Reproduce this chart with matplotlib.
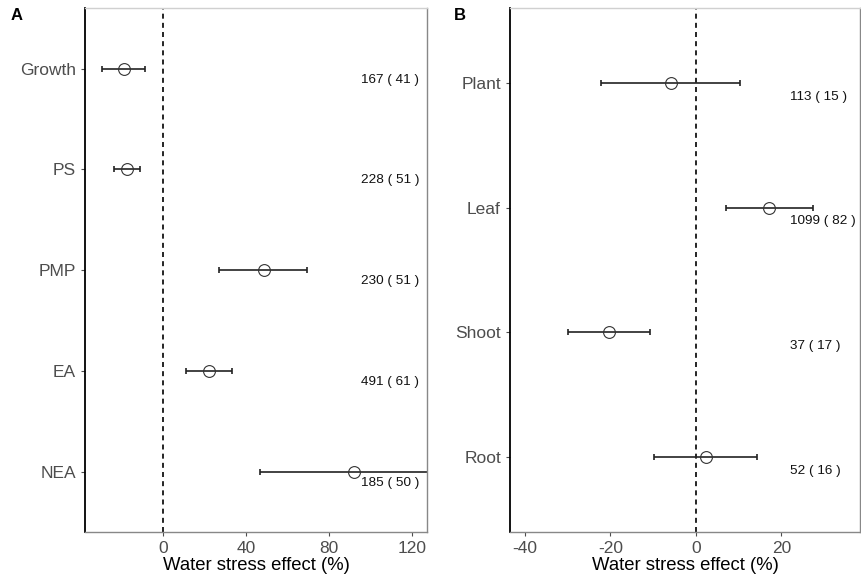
import matplotlib
matplotlib.use("Agg")
import matplotlib.pyplot as plt

plt.rcParams['font.family'] = ['Liberation Sans', 'DejaVu Sans']
plt.rcParams['axes.unicode_minus'] = False

# panel A
cats_a = ["Growth", "PS", "PMP", "EA", "NEA"]
mean_a = [-18.6, -17.3, 48.4, 22.3, 92.1]
lo_a = [-29.0, -23.3, 27.1, 11.2, 46.8]
hi_a = [-8.4, -10.9, 69.2, 33.2, 140.0]
obs_a = [167, 228, 230, 491, 185]
stud_a = [41, 51, 51, 61, 50]

# panel B
cats_b = ["Plant", "Leaf", "Shoot", "Root"]
mean_b = [-5.9, 17.1, -20.3, 2.3]
lo_b = [-22.1, 7.0, -29.9, -9.75]
hi_b = [10.4, 27.3, -10.8, 14.3]
obs_b = [113, 1099, 37, 52]
stud_b = [15, 82, 17, 16]

fig = plt.figure(figsize=(8.61, 5.79), dpi=100)
ax_a = fig.add_axes([0.0987, 0.0812, 0.3973, 0.9048])
ax_b = fig.add_axes([0.5923, 0.0812, 0.4065, 0.9048])


def draw(ax, cats, mean, lo, hi, obs, stud, xlim, xticks, label_x):
    y = list(range(len(cats)))
    xerr = [[m - l for m, l in zip(mean, lo)], [h - m for m, h in zip(mean, hi)]]
    ax.axvline(0, color="black", ls=(0, (3, 2.5)), lw=1.2, zorder=1)
    ax.errorbar(mean, y, xerr=xerr, fmt="none", ecolor="#222222",
                elinewidth=1.2, capsize=2.5, capthick=1.2, zorder=2)
    ax.plot(mean, y, "o", ms=8.5, mfc="none", mec="#333333", mew=0.8, zorder=3)
    for yi, n, s in zip(y, obs, stud):
        ax.text(label_x, yi + 0.11, f"{n} ( {s} )", fontsize=9.7,
                ha="left", va="center", color="#111111")
    ax.set_yticks(y)
    ax.set_yticklabels(cats)
    ax.set_ylim(len(cats) - 1 + 0.6, -0.6)
    ax.set_xlim(*xlim)
    ax.set_xticks(xticks)
    ax.tick_params(axis="both", labelsize=12.5, labelcolor="#4D4D4D",
                   color="#4D4D4D", length=3, width=0.8)
    ax.set_xlabel("Water stress effect (%)", fontsize=13.3, labelpad=1)
    for side in ["top", "right", "bottom"]:
        ax.spines[side].set_color("#888888")
        ax.spines[side].set_linewidth(1.0)
    ax.spines["top"].set_color("#d0d0d0")
    ax.spines["left"].set_color("black")
    ax.spines["left"].set_linewidth(1.3)


draw(ax_a, cats_a, mean_a, lo_a, hi_a, obs_a, stud_a, (-37.4, 127), [0, 40, 80, 120], 95.2)
draw(ax_b, cats_b, mean_b, lo_b, hi_b, obs_b, stud_b, (-43.5, 38.4), [-40, -20, 0, 20], 22.1)

fig.text(0.012, 0.965, "A", fontsize=12, fontweight="bold")
fig.text(0.527, 0.965, "B", fontsize=12, fontweight="bold")

fig.savefig("out.png", dpi=100)
